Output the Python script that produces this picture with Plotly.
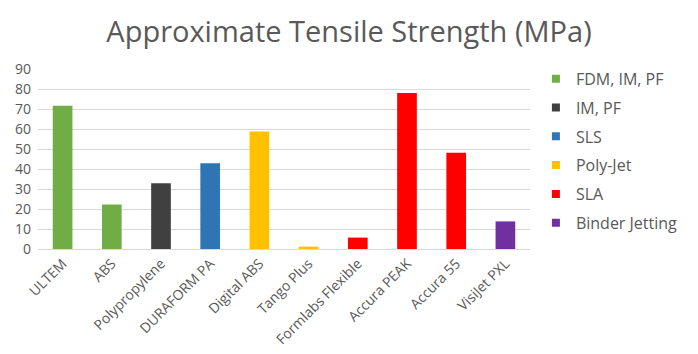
import plotly.graph_objects as go

categories = ["ULTEM", "ABS", "Polypropylene", "DURAFORM PA", "Digital ABS",
              "Tango Plus", "Formlabs Flexible", "Accura PEAK", "Accura 55", "VisiJet PXL"]
values = [71.6, 22.2, 32.9, 42.9, 58.7, 1.2, 5.7, 78, 48.1, 13.8]
groups = ["FDM, IM, PF", "FDM, IM, PF", "IM, PF", "SLS", "Poly-Jet",
          "Poly-Jet", "SLA", "SLA", "SLA", "Binder Jetting"]
group_names = ["FDM, IM, PF", "IM, PF", "SLS", "Poly-Jet", "SLA", "Binder Jetting"]
group_colors = ["#70AD47", "#404040", "#2E75B6", "#FFC000", "#FF0000", "#7030A0"]

fig = go.Figure()
for g, c in zip(group_names, group_colors):
    xs = [cat for cat, gg in zip(categories, groups) if gg == g]
    ys = [v for v, gg in zip(values, groups) if gg == g]
    fig.add_trace(go.Bar(x=xs, y=ys, marker=dict(color=c, line=dict(width=0)),
                         width=0.4, showlegend=False, hoverinfo="x+y"))
    fig.add_trace(go.Scatter(x=[None], y=[None], mode="markers", name=g,
                             legendgroup=g,
                             marker=dict(symbol="square", size=8, color=c)))

fig.update_layout(
    width=698, height=354,
    margin=dict(l=38, r=168, t=69, b=105),
    paper_bgcolor="white", plot_bgcolor="white",
    barmode="overlay",
    title=dict(text="Approximate Tensile Strength (MPa)", x=0.5, xanchor="center",
               y=0.91, yanchor="middle", xref="container",
               font=dict(family="Open Sans", size=29, color="#595959")),
    font=dict(family="Open Sans", color="#595959"),
    xaxis=dict(categoryorder="array", categoryarray=categories,
               tickangle=-45, tickfont=dict(size=14, color="#595959"),
               showline=True, linecolor="#d9d9d9", linewidth=1,
               showgrid=False, ticks="", automargin=False),
    yaxis=dict(range=[0, 90], dtick=10, showgrid=True, gridcolor="#d9d9d9",
               gridwidth=1, zeroline=False, ticks="", automargin=False,
               tickfont=dict(size=14, color="#595959"), ticklabelstandoff=6),
    legend=dict(x=1.012, xanchor="left", y=1.04, yanchor="top",
                font=dict(size=16, color="#595959"), maxheight=1.0,
                tracegroupgap=5, itemwidth=30, bgcolor="rgba(0,0,0,0)"),
)

fig.write_html("out.html")
